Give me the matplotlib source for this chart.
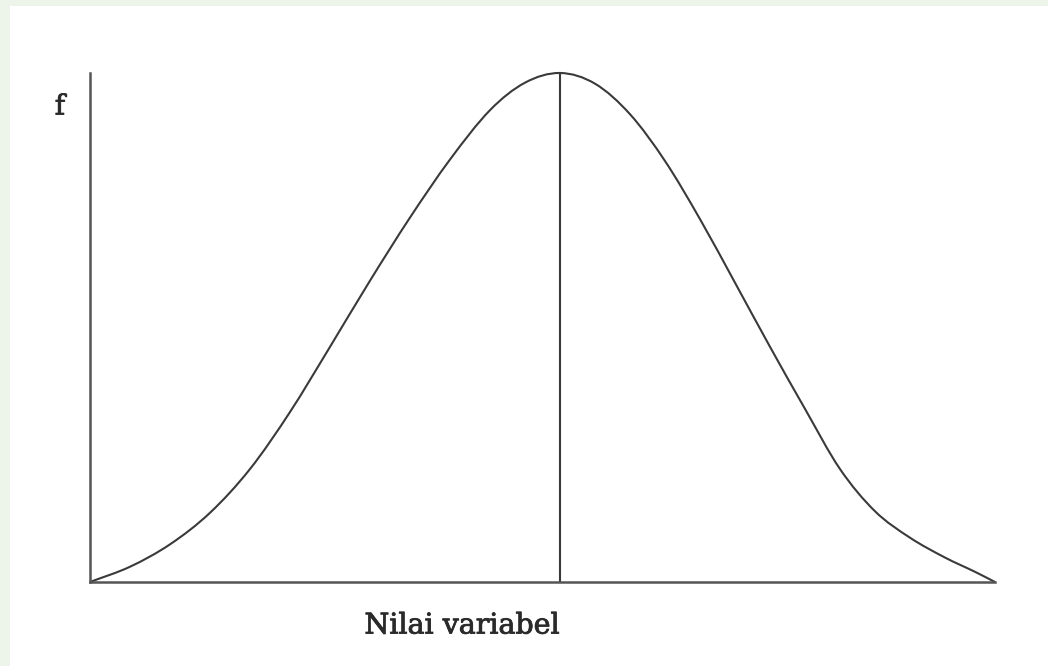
import numpy as np
import matplotlib
matplotlib.use("Agg")
import matplotlib.pyplot as plt
import matplotlib.patheffects as pe
from matplotlib.patches import Rectangle, PathPatch
from matplotlib.path import Path

# Bell-shaped frequency curve: variable value (x) vs relative frequency f (y)
x_vals = [0.000, 0.442, 0.884, 1.326, 1.768, 2.210, 2.652, 3.094, 3.536,
          3.978, 4.420, 4.807, 5.193,
          5.580, 5.967, 6.354, 6.740, 7.127, 7.514, 7.901, 8.287, 8.674,
          9.061, 9.448, 9.779, 10.000]
f_vals = [0.000, 0.030, 0.074, 0.136, 0.222, 0.334, 0.462, 0.592, 0.716,
          0.830, 0.927, 0.981, 1.000,
          0.979, 0.919, 0.827, 0.713, 0.588, 0.462, 0.340, 0.222, 0.139,
          0.087, 0.048, 0.020, 0.000]

x_label = "Nilai variabel"
y_label = "f"


def smooth_path(xs, ys):
    """Cubic Hermite (Catmull-Rom style) Bezier path through the points."""
    xs = np.asarray(xs, float)
    ys = np.asarray(ys, float)
    n = len(xs)
    slopes = np.empty(n)
    slopes[0] = (ys[1] - ys[0]) / (xs[1] - xs[0])
    slopes[-1] = (ys[-1] - ys[-2]) / (xs[-1] - xs[-2])
    slopes[1:-1] = (ys[2:] - ys[:-2]) / (xs[2:] - xs[:-2])
    verts = [(xs[0], ys[0])]
    codes = [Path.MOVETO]
    for i in range(n - 1):
        h = xs[i + 1] - xs[i]
        verts += [(xs[i] + h / 3, ys[i] + slopes[i] * h / 3),
                  (xs[i + 1] - h / 3, ys[i + 1] - slopes[i + 1] * h / 3),
                  (xs[i + 1], ys[i + 1])]
        codes += [Path.CURVE4] * 3
    return Path(verts, codes)


W, H = 1048, 669
fig = plt.figure(figsize=(W / 100, H / 100), dpi=100)
fig.patch.set_facecolor("white")

# pale green frame along the top and left edges
frame_col = "#edf4e9"
fig.patches.append(Rectangle((0, 1 - 6 / H), 1, 6 / H, transform=fig.transFigure,
                             facecolor=frame_col, edgecolor="none", zorder=0))
fig.patches.append(Rectangle((0, 3 / H), 10 / W, 1, transform=fig.transFigure,
                             facecolor=frame_col, edgecolor="none", zorder=0))

ax = fig.add_axes([90 / W, (H - 582) / H, 905 / W, 509 / H])
ax.set_facecolor("none")
ax.set_xlim(0, 10)
ax.set_ylim(0, 1)

line_col = "#3a3a3a"
ax.add_patch(PathPatch(smooth_path(x_vals, f_vals), fill=False,
                       edgecolor=line_col, lw=1.5, clip_on=False))

# vertical line at the mode
peak_i = int(np.argmax(f_vals))
ax.plot([x_vals[peak_i], x_vals[peak_i]], [0, f_vals[peak_i]],
        color=line_col, lw=1.5, clip_on=False)

for side in ("top", "right"):
    ax.spines[side].set_visible(False)
for side in ("left", "bottom"):
    ax.spines[side].set_color("#555555")
    ax.spines[side].set_linewidth(1.8)
ax.set_xticks([])
ax.set_yticks([])

text_col = "#2a2a2a"
heavier = [pe.withStroke(linewidth=0.6, foreground=text_col)]
fig.text(60 / W, 1 - 107 / H, y_label, ha="center", va="center",
         family="DejaVu Serif", fontsize=20, color=text_col, path_effects=heavier)
fig.text(462 / W, 1 - 626 / H, x_label, ha="center", va="center",
         family="DejaVu Serif", fontsize=20.5, color=text_col, path_effects=heavier)

fig.savefig("out.png", dpi=100, facecolor=fig.get_facecolor())
